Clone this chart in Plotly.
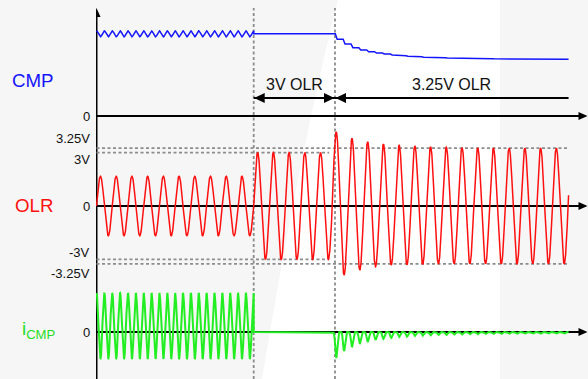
import numpy as np
import plotly.graph_objects as go

# ---------------- data ----------------
# time axis measured in OLR oscillation periods
t_marks = [10.0, 15.17]            # start of the "3V OLR" and "3.25V OLR" windows
t_end = 30.03
window_labels = ["3V OLR", "3.25V OLR"]

# OLR (volts)
olr_amp_free = 1.67                # before any clamp
olr_amp_3v = 3.0                   # during the 3V window
olr_amp_325 = [4.17, 3.88, 3.80, 3.60, 3.61, 3.41, 3.48, 3.31, 3.41, 3.30,
               3.37, 3.28, 3.33, 3.26, 3.30, 3.25, 3.28, 3.25, 3.26, 3.25]  # per half cycle from t=15
olr_levels = [3.0, 3.25]
olr_level_labels = ["3V", "3.25V"]

# CMP (volts)
cmp_start = 2.49
cmp_ripple = 0.09
cmp_after_pulse = [2.324, 2.182, 2.070, 2.000, 1.948, 1.909, 1.879, 1.848, 1.827, 1.809,
                   1.794, 1.782, 1.773, 1.764, 1.758, 1.752, 1.745, 1.742, 1.739, 1.736,
                   1.733, 1.730, 1.730, 1.727, 1.727, 1.727, 1.724, 1.724, 1.724, 1.721]

# iCMP (relative units)
icmp_amp = 1.0
icmp_offset = 0.18
icmp_pulse_depth = [0.79, 0.58, 0.46, 0.36, 0.30, 0.24, 0.21, 0.18, 0.15, 0.14,
                    0.12, 0.11, 0.10, 0.09, 0.09, 0.08, 0.08, 0.07, 0.07, 0.06,
                    0.06, 0.06, 0.055, 0.055, 0.05, 0.05, 0.05, 0.045, 0.045, 0.045]

panel_names = ["CMP", "OLR", "i<sub>CMP</sub>"]

# ---------------- geometry ----------------
W, H = 588, 379
ML = 96
PW = W - ML
T_PX = 15.72            # pixels per OLR period
X0_PX = 96.5            # pixel of t = 0


def px_x(px):
    return (px - ML) / PW


def px_y(py):
    return 1 - py / H


def yrange(zero_px, ppu):
    return [-(H - zero_px) / ppu, zero_px / ppu]


CMP_ZERO, CMP_PPU = 116, 33.0
OLR_ZERO, OLR_PPU = 206, 17.8
ICMP_ZERO, ICMP_PPU = 332, 33.0

# ---------------- build waveforms ----------------
t1 = np.linspace(0, t_marks[0], 1600)
t2 = np.linspace(t_marks[0], t_end, 3200)
t_all = np.linspace(0, t_end, 5000)

h = np.floor(2 * t_all).astype(int)
amp = np.where(h < 2 * t_marks[0], olr_amp_free, olr_amp_3v).astype(float)
for i, hh in enumerate(h):
    if hh >= 30:
        k = hh - 30
        amp[i] = olr_amp_325[k] if k < len(olr_amp_325) else olr_levels[1]
olr = amp * np.sin(2 * np.pi * t_all)

g1 = icmp_amp * np.cos(4 * np.pi * t1) + icmp_offset
h2 = np.floor(2 * t2).astype(int)
g2 = np.zeros_like(t2)
for i, hh in enumerate(h2):
    if hh >= 30:
        k = hh - 30
        d = icmp_pulse_depth[k] if k < len(icmp_pulse_depth) else icmp_pulse_depth[-1]
        g2[i] = -d * np.abs(np.sin(2 * np.pi * t2[i])) ** 6
icmp_t = np.concatenate([t1, t2])
icmp = np.concatenate([g1, g2])

c1 = cmp_start + cmp_ripple * np.cos(4 * np.pi * t1)
ct = list(t1) + [t_marks[0]]
cv = list(c1) + [cmp_start]
prev = cmp_start
for k, lev in enumerate(cmp_after_pulse):
    tk = 15.25 + 0.5 * k
    ct += [tk - 0.06, tk + 0.06]
    cv += [prev, lev]
    prev = lev
ct.append(t_end)
cv.append(prev)

fig = go.Figure()
fig.add_trace(go.Scatter(x=ct, y=cv, mode="lines", line=dict(color="#1414ff", width=1.5),
                         yaxis="y", hoverinfo="skip"))
fig.add_trace(go.Scatter(x=t_all, y=olr, mode="lines", line=dict(color="#ff1010", width=1.5),
                         yaxis="y2", hoverinfo="skip"))
fig.add_trace(go.Scatter(x=icmp_t, y=icmp, mode="lines", line=dict(color="#22ee22", width=2),
                         yaxis="y3", hoverinfo="skip"))

shapes = []
# background watermark
shapes.append(dict(type="path", xref="paper", yref="paper", layer="below",
                   path=f"M {px_x(338)},{px_y(0)} Q {px_x(300)},{px_y(150)} {px_x(262)},{px_y(379)} "
                        f"L {px_x(500)},{px_y(379)} L {px_x(500)},{px_y(0)} Z",
                   fillcolor="white", line=dict(width=0)))

GRAY = "#8c8c8c"
DASH = "3px,2.5px"
# vertical dashed markers
for tm in t_marks:
    shapes.append(dict(type="line", xref="x", yref="paper", x0=tm, x1=tm, y0=0, y1=px_y(8),
                       line=dict(color=GRAY, width=1.8, dash=DASH), layer="below"))
# horizontal clamp levels
for lev in olr_levels:
    xend = t_end if lev == olr_levels[1] else 14.8
    for s in (1, -1):
        shapes.append(dict(type="line", xref="x", yref="y2", x0=0, x1=xend, y0=s * lev, y1=s * lev,
                           line=dict(color=GRAY, width=1.8, dash=DASH), layer="below"))

# axes lines
shapes.append(dict(type="line", xref="x", yref="paper", x0=0, x1=0, y0=0, y1=px_y(14),
                   line=dict(color="black", width=2), layer="below"))
shapes.append(dict(type="path", xref="x", yref="paper", xsizemode="pixel", ysizemode="pixel",
                   xanchor=0, yanchor=px_y(8), path="M 0,0 L -4,-9 L 4,-9 Z",
                   fillcolor="black", line=dict(width=0)))
for yr in ("y", "y2", "y3"):
    shapes.append(dict(type="line", xref="paper", yref=yr, x0=px_x(X0_PX), x1=px_x(581), y0=0, y1=0,
                       line=dict(color="black", width=2), layer="below"))
    shapes.append(dict(type="path", xref="paper", yref=yr, xsizemode="pixel", ysizemode="pixel",
                       xanchor=px_x(587.5), yanchor=0, path="M 0,0 L -9,4 L -9,-4 Z",
                       fillcolor="black", line=dict(width=0)))

# window arrows
ARROW_Y = (CMP_ZERO - 98) / CMP_PPU
spans = [(t_marks[0], t_marks[1], True), (t_marks[1], t_end, False)]
for (a, b, both) in spans:
    shapes.append(dict(type="line", xref="x", yref="y", x0=a, x1=b, y0=ARROW_Y, y1=ARROW_Y,
                       line=dict(color="black", width=2)))
    shapes.append(dict(type="path", xref="x", yref="y", xsizemode="pixel", ysizemode="pixel",
                       xanchor=a, yanchor=ARROW_Y, path="M 0.5,0 L 11,5 L 11,-5 Z",
                       fillcolor="black", line=dict(width=0)))
    if both:
        shapes.append(dict(type="path", xref="x", yref="y", xsizemode="pixel", ysizemode="pixel",
                           xanchor=b, yanchor=ARROW_Y, path="M -0.5,0 L -11,5 L -11,-5 Z",
                           fillcolor="black", line=dict(width=0)))

FONT = "Liberation Sans, Arial, sans-serif"
ann = []
for (a, b, _), lab in zip(spans, window_labels):
    ann.append(dict(x=(a + b) / 2, xref="x", y=px_y(85), yref="paper", text=lab, showarrow=False,
                    font=dict(family=FONT, size=16, color="#111"), xanchor="center", yanchor="middle"))

# tick labels
TX = px_x(91.5)
for yr in ("y", "y2", "y3"):
    ann.append(dict(x=TX, xref="paper", y=0, yref=yr, text="0", showarrow=False, xanchor="right",
                    yanchor="middle", font=dict(family=FONT, size=13, color="#111")))
shifts = {olr_levels[0]: -7, olr_levels[1]: 10}
for lev, lab in zip(olr_levels, olr_level_labels):
    ann.append(dict(x=TX, xref="paper", y=lev, yref="y2", text=lab, showarrow=False, xanchor="right",
                    yanchor="middle", yshift=shifts[lev], font=dict(family=FONT, size=13, color="#111")))
    ann.append(dict(x=TX, xref="paper", y=-lev, yref="y2", text="-" + lab, showarrow=False,
                    xanchor="right", yanchor="middle", yshift=-shifts[lev],
                    font=dict(family=FONT, size=13, color="#111")))

# panel names
name_pos = [(32.5, 80.5, "#1414ff"), (34.2, 205.5, "#ff1010"), (38.5, 330, "#22dd22")]
for name, (xp, yp, col) in zip(panel_names, name_pos):
    ann.append(dict(x=px_x(xp), xref="paper", y=px_y(yp), yref="paper", text=name, showarrow=False,
                    xanchor="center", yanchor="middle", font=dict(family=FONT, size=18.7, color=col)))

fig.update_layout(
    width=W, height=H,
    margin=dict(l=ML, r=0, t=0, b=0),
    paper_bgcolor="#f6f6f6", plot_bgcolor="rgba(0,0,0,0)",
    showlegend=False,
    xaxis=dict(range=[-(X0_PX - ML) / T_PX, (W - X0_PX) / T_PX], visible=False),
    yaxis=dict(range=yrange(CMP_ZERO, CMP_PPU), visible=False, domain=[0, 1]),
    yaxis2=dict(range=yrange(OLR_ZERO, OLR_PPU), visible=False, overlaying="y"),
    yaxis3=dict(range=yrange(ICMP_ZERO, ICMP_PPU), visible=False, overlaying="y"),
    shapes=shapes,
    annotations=ann,
)

fig.write_html("out.html", config={"displayModeBar": False},
               post_script="document.body.style.margin='0px';document.body.style.overflow='hidden';")
